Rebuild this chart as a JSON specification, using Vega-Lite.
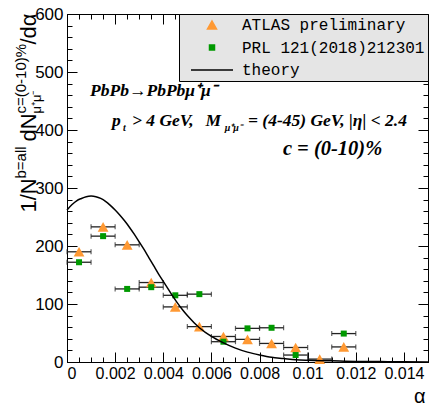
{
  "$schema": "https://vega.github.io/schema/vega-lite/v6.json",
  "width": 361,
  "height": 348,
  "autosize": {"type": "none"},
  "padding": {"left": 67, "top": 14, "right": 3, "bottom": 44},
  "background": "white",
  "config": {
    "font": "Liberation Sans",
    "view": {"stroke": "black", "strokeWidth": 1},
    "axis": {"grid": false, "domain": false, "tickColor": "black", "tickWidth": 1, "labelColor": "black", "titleColor": "black", "labelFont": "Liberation Sans", "titleFont": "Liberation Sans", "titleFontWeight": "normal"}
  },
  "datasets": {
    "pts": [
      {"series": "ATLAS preliminary", "a": 0.0005, "lo": 0.0, "hi": 0.001, "v": 190},
      {"series": "ATLAS preliminary", "a": 0.0015, "lo": 0.001, "hi": 0.002, "v": 233},
      {"series": "ATLAS preliminary", "a": 0.0025, "lo": 0.002, "hi": 0.003, "v": 202},
      {"series": "ATLAS preliminary", "a": 0.0035, "lo": 0.003, "hi": 0.004, "v": 137},
      {"series": "ATLAS preliminary", "a": 0.0045, "lo": 0.004, "hi": 0.005, "v": 95},
      {"series": "ATLAS preliminary", "a": 0.0055, "lo": 0.005, "hi": 0.006, "v": 61},
      {"series": "ATLAS preliminary", "a": 0.0065, "lo": 0.006, "hi": 0.007, "v": 44},
      {"series": "ATLAS preliminary", "a": 0.0075, "lo": 0.007, "hi": 0.008, "v": 39},
      {"series": "ATLAS preliminary", "a": 0.0085, "lo": 0.008, "hi": 0.009, "v": 32},
      {"series": "ATLAS preliminary", "a": 0.0095, "lo": 0.009, "hi": 0.01, "v": 25},
      {"series": "ATLAS preliminary", "a": 0.0105, "lo": 0.01, "hi": 0.011, "v": 5},
      {"series": "ATLAS preliminary", "a": 0.0115, "lo": 0.011, "hi": 0.012, "v": 26},
      {"series": "PRL 121(2018)212301", "a": 0.0005, "lo": 0.0, "hi": 0.001, "v": 172},
      {"series": "PRL 121(2018)212301", "a": 0.0015, "lo": 0.001, "hi": 0.002, "v": 217},
      {"series": "PRL 121(2018)212301", "a": 0.0025, "lo": 0.002, "hi": 0.003, "v": 126},
      {"series": "PRL 121(2018)212301", "a": 0.0035, "lo": 0.003, "hi": 0.004, "v": 129},
      {"series": "PRL 121(2018)212301", "a": 0.0045, "lo": 0.004, "hi": 0.005, "v": 115},
      {"series": "PRL 121(2018)212301", "a": 0.0055, "lo": 0.005, "hi": 0.006, "v": 117},
      {"series": "PRL 121(2018)212301", "a": 0.0065, "lo": 0.006, "hi": 0.007, "v": 35},
      {"series": "PRL 121(2018)212301", "a": 0.0075, "lo": 0.007, "hi": 0.008, "v": 58},
      {"series": "PRL 121(2018)212301", "a": 0.0085, "lo": 0.008, "hi": 0.009, "v": 59},
      {"series": "PRL 121(2018)212301", "a": 0.0095, "lo": 0.009, "hi": 0.01, "v": 12},
      {"series": "PRL 121(2018)212301", "a": 0.0115, "lo": 0.011, "hi": 0.012, "v": 49}
    ],
    "theory": [
      {"series": "theory", "a": 0.0, "v": 262},
      {"series": "theory", "a": 0.0002, "v": 271},
      {"series": "theory", "a": 0.0004, "v": 278},
      {"series": "theory", "a": 0.0006, "v": 282},
      {"series": "theory", "a": 0.0008, "v": 285},
      {"series": "theory", "a": 0.001, "v": 286},
      {"series": "theory", "a": 0.0012, "v": 285},
      {"series": "theory", "a": 0.0014, "v": 282},
      {"series": "theory", "a": 0.0016, "v": 277},
      {"series": "theory", "a": 0.0018, "v": 270},
      {"series": "theory", "a": 0.002, "v": 262},
      {"series": "theory", "a": 0.0022, "v": 253},
      {"series": "theory", "a": 0.0024, "v": 243},
      {"series": "theory", "a": 0.0026, "v": 232},
      {"series": "theory", "a": 0.0028, "v": 220},
      {"series": "theory", "a": 0.003, "v": 207},
      {"series": "theory", "a": 0.0032, "v": 194},
      {"series": "theory", "a": 0.0034, "v": 180},
      {"series": "theory", "a": 0.0036, "v": 166},
      {"series": "theory", "a": 0.0038, "v": 152},
      {"series": "theory", "a": 0.004, "v": 139},
      {"series": "theory", "a": 0.0042, "v": 126},
      {"series": "theory", "a": 0.0044, "v": 113},
      {"series": "theory", "a": 0.0046, "v": 101},
      {"series": "theory", "a": 0.0048, "v": 90},
      {"series": "theory", "a": 0.005, "v": 80},
      {"series": "theory", "a": 0.0055, "v": 59},
      {"series": "theory", "a": 0.006, "v": 44},
      {"series": "theory", "a": 0.0065, "v": 33},
      {"series": "theory", "a": 0.007, "v": 24},
      {"series": "theory", "a": 0.0075, "v": 17},
      {"series": "theory", "a": 0.008, "v": 12},
      {"series": "theory", "a": 0.0085, "v": 8},
      {"series": "theory", "a": 0.009, "v": 6},
      {"series": "theory", "a": 0.0095, "v": 4},
      {"series": "theory", "a": 0.01, "v": 3},
      {"series": "theory", "a": 0.011, "v": 2},
      {"series": "theory", "a": 0.012, "v": 1},
      {"series": "theory", "a": 0.013, "v": 0.7},
      {"series": "theory", "a": 0.014, "v": 0.4},
      {"series": "theory", "a": 0.015, "v": 0.2}
    ],
    "notes": [
      {"kind": "main", "a": 0.00096, "v": 459, "text": "PbPb→PbPbμ⁺μ⁻"},
      {"kind": "main", "a": 0.00187, "v": 407, "text": "p"},
      {"kind": "sub", "a": 0.00233, "v": 407, "text": "t"},
      {"kind": "main", "a": 0.0027, "v": 407, "text": "> 4 GeV,"},
      {"kind": "main", "a": 0.00575, "v": 407, "text": "M"},
      {"kind": "sub", "a": 0.00655, "v": 407, "text": "μ⁺μ⁻"},
      {"kind": "main", "a": 0.00752, "v": 407, "text": "= (4-45) GeV, |η| < 2.4"},
      {"kind": "big", "a": 0.00897, "v": 357, "text": "c = (0-10)%"}
    ]
  },
  "layer": [
    {
      "data": {"name": "pts"},
      "mark": {"type": "rule", "color": "#222222", "strokeWidth": 1.3},
      "encoding": {
        "x": {"field": "lo", "type": "quantitative", "scale": {"domain": [0, 0.015], "nice": false, "zero": false},
          "axis": {"orient": "bottom", "values": [0, 0.002, 0.004, 0.006, 0.008, 0.01, 0.012, 0.014], "format": "~g", "tickSize": -10, "labelFontSize": 16, "labelPadding": 13, "title": "α", "titleFontSize": 20, "titleAlign": "right", "titleBaseline": "alphabetic", "titleX": 358, "titleY": 40}},
        "x2": {"field": "hi"},
        "y": {"field": "v", "type": "quantitative", "scale": {"domain": [0, 600], "nice": false, "zero": false},
          "axis": {"orient": "left", "values": [0, 100, 200, 300, 400, 500, 600], "tickSize": -10, "labelFontSize": 17, "labelPadding": 14, "title": "1/N", "titleFontSize": 22, "titleAngle": -90, "titleAlign": "left", "titleBaseline": "alphabetic", "titleX": -32, "titleY": 198}}
      }
    },
    {
      "data": {"name": "pts"},
      "mark": {"type": "tick", "orient": "vertical", "color": "#222222", "size": 5, "thickness": 1.2},
      "encoding": {
        "x": {"field": "lo", "type": "quantitative", "scale": {"domain": [0, 0.015], "nice": false, "zero": false},
          "axis": {"orient": "bottom", "values": [0, 0.0005, 0.001, 0.0015, 0.002, 0.0025, 0.003, 0.0035, 0.004, 0.0045, 0.005, 0.0055, 0.006, 0.0065, 0.007, 0.0075, 0.008, 0.0085, 0.009, 0.0095, 0.01, 0.0105, 0.011, 0.0115, 0.012, 0.0125, 0.013, 0.0135, 0.014, 0.0145, 0.015], "tickSize": -5, "labels": false, "title": null}},
        "y": {"field": "v", "type": "quantitative", "scale": {"domain": [0, 600], "nice": false, "zero": false},
          "axis": {"orient": "left", "values": [0, 20, 40, 60, 80, 100, 120, 140, 160, 180, 200, 220, 240, 260, 280, 300, 320, 340, 360, 380, 400, 420, 440, 460, 480, 500, 520, 540, 560, 580, 600], "tickSize": -5, "labels": false, "title": "b=all", "titleFontSize": 15, "titleAngle": -90, "titleAlign": "left", "titleBaseline": "alphabetic", "titleX": -42, "titleY": 164}}
      }
    },
    {
      "data": {"name": "pts"},
      "mark": {"type": "tick", "orient": "vertical", "color": "#222222", "size": 5, "thickness": 1.2},
      "encoding": {
        "x": {"field": "hi", "type": "quantitative", "scale": {"domain": [0, 0.015], "nice": false, "zero": false},
          "axis": {"orient": "top", "values": [0, 0.002, 0.004, 0.006, 0.008, 0.01, 0.012, 0.014], "tickSize": -10, "labels": false, "title": null}},
        "y": {"field": "v", "type": "quantitative", "scale": {"domain": [0, 600], "nice": false, "zero": false},
          "axis": {"orient": "right", "values": [0, 100, 200, 300, 400, 500, 600], "tickSize": -10, "labels": false, "title": "dN", "titleFontSize": 22, "titleAngle": -90, "titleAlign": "left", "titleBaseline": "alphabetic", "titleX": -393, "titleY": 127}}
      }
    },
    {
      "data": {"name": "pts"},
      "mark": {"type": "point", "filled": true, "opacity": 1, "size": 144, "strokeWidth": 0},
      "encoding": {
        "x": {"field": "a", "type": "quantitative", "scale": {"domain": [0, 0.015], "nice": false, "zero": false},
          "axis": {"orient": "top", "values": [0, 0.0005, 0.001, 0.0015, 0.002, 0.0025, 0.003, 0.0035, 0.004, 0.0045, 0.005, 0.0055, 0.006, 0.0065, 0.007, 0.0075, 0.008, 0.0085, 0.009, 0.0095, 0.01, 0.0105, 0.011, 0.0115, 0.012, 0.0125, 0.013, 0.0135, 0.014, 0.0145, 0.015], "tickSize": -5, "labels": false, "title": null}},
        "y": {"field": "v", "type": "quantitative", "scale": {"domain": [0, 600], "nice": false, "zero": false},
          "axis": {"orient": "right", "values": [0, 20, 40, 60, 80, 100, 120, 140, 160, 180, 200, 220, 240, 260, 280, 300, 320, 340, 360, 380, 400, 420, 440, 460, 480, 500, 520, 540, 560, 580, 600], "tickSize": -5, "labels": false, "title": "c=(0-10)%", "titleFontSize": 15, "titleAngle": -90, "titleAlign": "left", "titleBaseline": "alphabetic", "titleX": -403, "titleY": 99}},
        "color": {"field": "series", "type": "nominal",
          "scale": {"domain": ["ATLAS preliminary", "PRL 121(2018)212301", "theory"], "range": ["#ff9933", "#009900", "#000000"]},
          "legend": {"orient": "top-right", "offset": 0, "title": null, "padding": 3, "fillColor": "#e5e5e5", "strokeColor": "black", "cornerRadius": 0, "labelFont": "Liberation Mono", "labelFontSize": 16, "labelColor": "black", "labelLimit": 400, "symbolSize": 100, "symbolOffset": 22, "labelOffset": 22, "rowPadding": 6.5,
            "encode": {"symbols": {"update": {"fill": {"scale": "color", "field": "value"}, "stroke": {"scale": "color", "field": "value"}, "opacity": {"value": 1}, "strokeWidth": [{"test": "datum.value === 'theory'", "value": 1.5}, {"value": 0}]}}}}},
        "shape": {"field": "series", "type": "nominal",
          "scale": {"domain": ["ATLAS preliminary", "PRL 121(2018)212301", "theory"], "range": ["M0,-0.8L0.9,0.8L-0.9,0.8Z", "M-0.5,-0.5H0.5V0.5H-0.5Z", "M-4.2,0H4.2"]},
          "legend": {"orient": "top-right", "offset": 0, "title": null, "padding": 3, "fillColor": "#e5e5e5", "strokeColor": "black", "cornerRadius": 0, "labelFont": "Liberation Mono", "labelFontSize": 16, "labelColor": "black", "labelLimit": 400, "symbolSize": 100, "symbolOffset": 22, "labelOffset": 22, "rowPadding": 6.5,
            "encode": {"symbols": {"update": {"fill": {"scale": "color", "field": "value"}, "stroke": {"scale": "color", "field": "value"}, "opacity": {"value": 1}, "strokeWidth": [{"test": "datum.value === 'theory'", "value": 1.5}, {"value": 0}]}}}}}
      }
    },
    {
      "data": {"name": "theory"},
      "mark": {"type": "line", "strokeWidth": 1.5, "interpolate": "monotone"},
      "encoding": {
        "x": {"field": "a", "type": "quantitative", "scale": {"domain": [0, 0.015], "nice": false, "zero": false}, "axis": null},
        "y": {"field": "v", "type": "quantitative", "scale": {"domain": [0, 600], "nice": false, "zero": false},
          "axis": {"orient": "left", "ticks": false, "labels": false, "title": "μ⁺μ⁻", "titleFontSize": 13, "titleAngle": -90, "titleAlign": "left", "titleBaseline": "alphabetic", "titleX": -27, "titleY": 99}},
        "color": {"field": "series", "type": "nominal", "scale": {"domain": ["ATLAS preliminary", "PRL 121(2018)212301", "theory"], "range": ["#ff9933", "#009900", "#000000"]}}
      }
    },
    {
      "data": {"name": "notes"},
      "transform": [{"filter": "datum.kind === 'main'"}],
      "mark": {"type": "text", "font": "Liberation Serif", "fontStyle": "italic", "fontWeight": "bold", "fontSize": 17.5, "align": "left", "baseline": "alphabetic", "color": "black"},
      "encoding": {
        "x": {"field": "a", "type": "quantitative", "scale": {"domain": [0, 0.015], "nice": false, "zero": false}, "axis": null},
        "y": {"field": "v", "type": "quantitative", "scale": {"domain": [0, 600], "nice": false, "zero": false},
          "axis": {"orient": "left", "ticks": false, "labels": false, "title": "/dα", "titleFontSize": 22, "titleAngle": -90, "titleAlign": "left", "titleBaseline": "alphabetic", "titleX": -32, "titleY": 30}},
        "text": {"field": "text"}
      }
    },
    {
      "data": {"name": "notes"},
      "transform": [{"filter": "datum.kind === 'sub'"}],
      "mark": {"type": "text", "font": "Liberation Serif", "fontStyle": "italic", "fontWeight": "bold", "fontSize": 10, "dy": 5, "align": "left", "baseline": "alphabetic", "color": "black"},
      "encoding": {
        "x": {"field": "a", "type": "quantitative", "scale": {"domain": [0, 0.015], "nice": false, "zero": false}, "axis": null},
        "y": {"field": "v", "type": "quantitative", "scale": {"domain": [0, 600], "nice": false, "zero": false}, "axis": null},
        "text": {"field": "text"}
      }
    },
    {
      "data": {"name": "notes"},
      "transform": [{"filter": "datum.kind === 'big'"}],
      "mark": {"type": "text", "font": "Liberation Serif", "fontStyle": "italic", "fontWeight": "bold", "fontSize": 20.5, "align": "left", "baseline": "alphabetic", "color": "black"},
      "encoding": {
        "x": {"field": "a", "type": "quantitative", "scale": {"domain": [0, 0.015], "nice": false, "zero": false}, "axis": null},
        "y": {"field": "v", "type": "quantitative", "scale": {"domain": [0, 600], "nice": false, "zero": false}, "axis": null},
        "text": {"field": "text"}
      }
    }
  ],
  "resolve": {"axis": {"x": "independent", "y": "independent"}}
}
